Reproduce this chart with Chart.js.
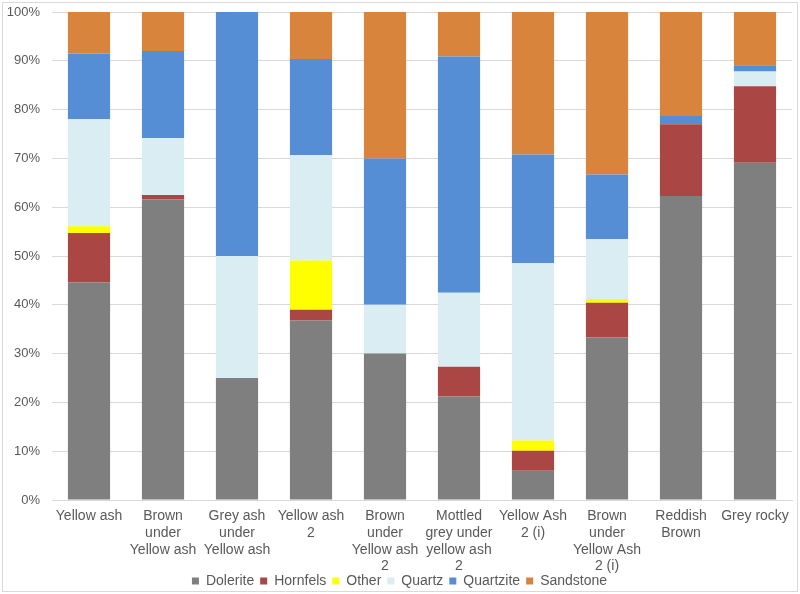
<!DOCTYPE html>
<html>
<head>
<meta charset="utf-8">
<script src="https://cdn.jsdelivr.net/npm/chart.js@4.4.1/dist/chart.umd.min.js"></script>
<style>
  html, body { margin: 0; padding: 0; background: #fff; }
  #wrap { width: 800px; height: 594px; position: relative; }
</style>
</head>
<body>
<div id="wrap"><canvas id="rockChart"></canvas></div>
<script>
'use strict';

// categories (multi-line labels as in the original)
let sampleNames = [
  'Yellow ash',
  ['Brown', 'under', 'Yellow ash'],
  ['Grey ash', 'under', 'Yellow ash'],
  ['Yellow ash', '2'],
  ['Brown', 'under', 'Yellow ash', '2'],
  ['Mottled', 'grey under', 'yellow ash', '2'],
  ['Yellow Ash', '2 (i)'],
  ['Brown', 'under', 'Yellow Ash', '2 (i)'],
  ['Reddish', 'Brown'],
  'Grey rocky'
];

// series values in percent
let dolerite  = [44.6, 61.6, 25.0, 36.8, 30.0, 21.2,  6.0, 33.3, 62.3, 69.1];
let hornfels  = [10.1,  0.9,  0.0,  2.2,  0.0,  6.1,  4.1,  7.1, 14.7, 15.7];
let other     = [ 1.4,  0.0,  0.0, 10.1,  0.0,  0.0,  2.1,  0.8,  0.0,  0.0];
let quartz    = [22.0, 11.7, 25.0, 21.6, 10.0, 15.2, 36.3, 12.3,  0.0,  3.0];
let quartzite = [13.4, 17.8, 50.0, 19.7, 30.0, 48.4, 22.3, 13.2,  1.7,  1.3];
let sandstone = [ 8.5,  8.0,  0.0,  9.6, 30.0,  9.1, 29.2, 33.3, 21.3, 10.9];

let yTicks = [0, 10, 20, 30, 40, 50, 60, 70, 80, 90, 100];

// outer border like the spreadsheet chart area,
// and let the x labels run past the axis box (they overlap the legend box a bit)
let borderPlugin = {
  id: 'chartBorder',
  afterLayout(chart) {
    chart.scales.x.bottom = chart.height;
  },
  afterDraw(chart) {
    let ctx = chart.ctx;
    ctx.save();
    ctx.strokeStyle = '#d9d9d9';
    ctx.lineWidth = 1;
    ctx.strokeRect(2.5, 2.5, chart.width - 5, chart.height - 5);
    ctx.restore();
  }
};

function makeSet(label, data, color) {
  return {
    label: label,
    data: data,
    backgroundColor: color,
    borderWidth: 0,
    barPercentage: 0.57,
    categoryPercentage: 1.0
  };
}

Chart.defaults.font.family = '"Liberation Sans", Arial, sans-serif';
Chart.defaults.font.size = 14;
Chart.defaults.color = '#595959';

let ctx = document.getElementById('rockChart').getContext('2d');
new Chart(ctx, {
  type: 'bar',
  data: {
    labels: sampleNames,
    datasets: [
      makeSet('Dolerite', dolerite, '#7f7f7f'),
      makeSet('Hornfels', hornfels, '#aa4643'),
      makeSet('Other', other, '#ffff00'),
      makeSet('Quartz', quartz, '#daedf3'),
      makeSet('Quartzite', quartzite, '#558ed5'),
      makeSet('Sandstone', sandstone, '#d9843d')
    ]
  },
  options: {
    responsive: true,
    maintainAspectRatio: false,
    animation: false,
    layout: { padding: { left: 7, right: 8, top: 12, bottom: -4 } },
    plugins: {
      legend: {
        position: 'bottom',
        labels: {
          boxWidth: 7,
          boxHeight: 7,
          padding: 6,
          color: '#595959',
          font: { size: 14 }
        }
      },
      tooltip: { enabled: false }
    },
    scales: {
      x: {
        stacked: true,
        grid: { display: false, drawTicks: false },
        border: { color: '#d9d9d9' },
        ticks: { maxRotation: 0, autoSkip: false, padding: 8, font: { size: 14, lineHeight: 1.19 } },
        afterFit(axis) {
          axis.height = 68;
        }
      },
      y: {
        stacked: true,
        min: 0,
        max: 100,
        afterBuildTicks(axis) {
          axis.ticks = yTicks.map(v => ({ value: v }));
        },
        afterFit(axis) {
          axis.width = 45;
        },
        grid: { color: '#d9d9d9', drawTicks: false },
        border: { display: false },
        ticks: {
          padding: 12,
          font: { size: 13, lineHeight: 0.01 },
          callback: v => v + '%'
        }
      }
    }
  },
  plugins: [borderPlugin]
});
</script>
</body>
</html>
